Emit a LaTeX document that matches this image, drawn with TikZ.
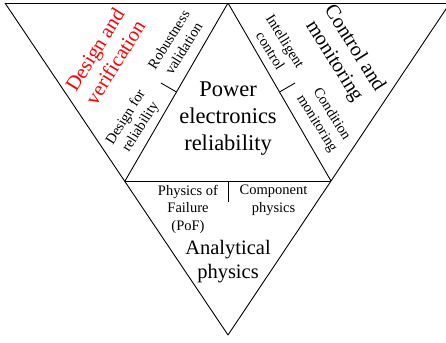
\documentclass[tikz,border=0pt]{standalone}
\usepackage{fontspec}
\setmainfont{Liberation Serif}[Ligatures=TeX]
\usetikzlibrary{calc}

\begin{document}
\begin{tikzpicture}[x=1pt,y=-1pt,line width=0.9pt]
  \tikzstyle{every node}=[align=center,inner sep=0pt,text=black,font=\rmfamily]
  \tikzstyle{huge text}=[font=\rmfamily\fontsize{22.5}{27}\selectfont]
  \tikzstyle{big text}=[font=\rmfamily\fontsize{20.5}{24}\selectfont]
  \tikzstyle{small text}=[font=\rmfamily\fontsize{14.5}{17.5}\selectfont]

  \useasboundingbox (0,0) rectangle (446,342);

	\coordinate	(0)	at (5,3);
	\coordinate	(1)	at (228,3);
	\coordinate	(2)	at (450,3);
	\coordinate	(3)	at (125,181);
	\coordinate	(4)	at (331,181);
	\coordinate	(5)	at (228,335);

	% ticks between the sub-topics
	\coordinate	(6)	at ($(1)!0.5!(3)$);
	\coordinate	(7)	at ($(6)!18pt!-90:(3)$);
	\coordinate	(8)	at ($(1)!0.5!(4)$);
	\coordinate	(9)	at ($(8)!18pt!90:(4)$);
	\coordinate	(10)	at ($(3)!0.5!(4)$);
	\coordinate	(11)	at ($(10)+(0,21)$);

	\path
    (0) edge (2)
    (0) edge (5)
    (2) edge (5)
    (1) edge (3)
    (1) edge (4)
    (3) edge (4)
    (6) edge (7)
    (8) edge (9)
    (10) edge (11);

	\node[huge text]	(c)	at (228,119)	{Power\\electronics\\reliability};
	\node[big text]	(a)	at (228,262)	{Analytical\\physics};
	\node[big text, rotate=58, text=red]	(d)	at (105,56)	{Design and\\verification};
	\node[big text, rotate=-58]	(m)	at (344,55)	{Control and\\monitoring};

	\node[small text, rotate=58]	(d1)	at (176,44)	{Robustness\\validation};
	\node[small text, rotate=58]	(d2)	at (133.5,122.5)	{Design for\\reliability};
	\node[small text, rotate=-58]	(m1)	at (278,46)	{Intelligent\\control};
	\node[small text, rotate=-58]	(m2)	at (324,119)	{Condition\\monitoring};
	\node[small text]	(a1)	at (188,209)	{Physics of\\Failure\\(PoF)};
	\node[small text]	(a2)	at (273.5,200.5)	{Component\\physics};

\end{tikzpicture}
\end{document}
